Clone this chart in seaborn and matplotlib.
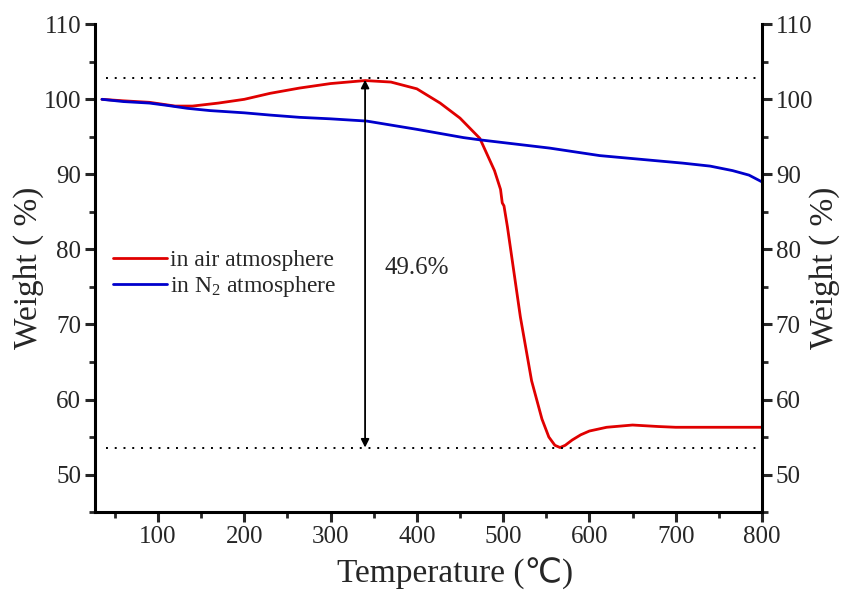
import matplotlib
matplotlib.use('Agg')
import matplotlib.pyplot as plt
from matplotlib.ticker import MultipleLocator
import pandas as pd
import seaborn as sns

# TGA curves
temp_air = [35, 60, 90, 120, 140, 170, 200, 230, 264, 300, 340, 370, 400, 427, 450,
            473, 490, 497, 499, 501, 505, 510, 520, 533, 545, 553, 560, 566, 572,
            580, 590, 600, 620, 650, 680, 700, 750, 800]
weight_air = [100.0, 99.8, 99.6, 99.1, 99.1, 99.5, 100.0, 100.8, 101.5, 102.1, 102.5,
              102.3, 101.4, 99.5, 97.5, 94.8, 90.5, 88.0, 86.2, 85.8, 83.0, 79.0, 71.0,
              62.5, 57.4, 55.0, 53.9, 53.6, 53.9, 54.6, 55.3, 55.8, 56.3, 56.6, 56.4,
              56.3, 56.3, 56.3]

temp_n2 = [35, 60, 90, 110, 134, 160, 200, 230, 264, 300, 342, 400, 454, 473, 554, 612,
           660, 708, 740, 766, 785, 800]
weight_n2 = [100.0, 99.7, 99.5, 99.2, 98.8, 98.5, 98.2, 97.9, 97.6, 97.4, 97.1, 96.0,
             94.9, 94.6, 93.5, 92.5, 92.0, 91.5, 91.1, 90.5, 89.9, 89.0]

labels = ['in air atmosphere', r'in N$\mathregular{_2}$ atmosphere']
colors = ['#e00000', '#0000cc']

ref_top = 102.9
ref_bottom = 53.5
arrow_x = 340
loss_text = '49.6%'

df = pd.concat([
    pd.DataFrame({'Temperature': temp_air, 'Weight': weight_air, 'curve': labels[0]}),
    pd.DataFrame({'Temperature': temp_n2, 'Weight': weight_n2, 'curve': labels[1]}),
])

sns.set_style('white')
plt.rcParams['font.family'] = ['Liberation Serif', 'DejaVu Sans']
plt.rcParams['mathtext.fontset'] = 'custom'
plt.rcParams['mathtext.rm'] = 'Liberation Serif'

fig = plt.figure(figsize=(8.41, 5.92), dpi=100)
ax = fig.add_axes([0.113, 0.135, 0.793, 0.824])

sns.lineplot(data=df, x='Temperature', y='Weight', hue='curve',
             palette=dict(zip(labels, colors)), sort=False, lw=2.0, ax=ax)

# dotted reference levels and the mass-loss arrow
ax.hlines([ref_top, ref_bottom], 40, 800, colors='black', linestyles=(0, (1, 3.5)), lw=1.4)
ax.annotate('', xy=(arrow_x, ref_top - 0.3), xytext=(arrow_x, ref_bottom + 0.1),
            arrowprops=dict(arrowstyle='<|-|>', color='black', lw=1.3,
                            mutation_scale=12, shrinkA=0, shrinkB=0))
ax.text(400, 77.5, loss_text, fontsize=18, ha='center', va='center')

ax.set_xlim(27, 800)
ax.set_ylim(45, 110)
ax.xaxis.set_major_locator(MultipleLocator(100))
ax.xaxis.set_minor_locator(MultipleLocator(50))
ax.yaxis.set_major_locator(MultipleLocator(10))
ax.yaxis.set_minor_locator(MultipleLocator(5))
ax.set_xticks(range(100, 801, 100))

for side in ['left', 'bottom', 'right']:
    ax.spines[side].set_linewidth(2.2)
    ax.spines[side].set_color('black')
ax.spines['top'].set_visible(False)

ax.tick_params(which='major', direction='out', length=7, width=2.2, labelsize=18,
               left=True, right=True, bottom=True, labelright=True, pad=3)
ax.tick_params(which='minor', direction='out', length=4, width=2.0,
               left=True, right=True, bottom=True)

ax.set_xlabel('Temperature (℃)', fontsize=24)
ax.xaxis.set_label_coords(0.54, -0.095)
ax.set_ylabel('Weight ( %)', fontsize=24, labelpad=0)
ax2 = ax.secondary_yaxis('right')
ax2.set_yticks([])
ax2.spines['right'].set_visible(False)
ax2.set_ylabel('Weight ( %)', fontsize=24, rotation=90, labelpad=34)

ax.legend(loc='upper left', bbox_to_anchor=(-0.005, 0.582), frameon=False,
          fontsize=17, handlelength=2.3, handletextpad=0.1, labelspacing=0.15, title=None)

fig.savefig('out.png', dpi=100)
